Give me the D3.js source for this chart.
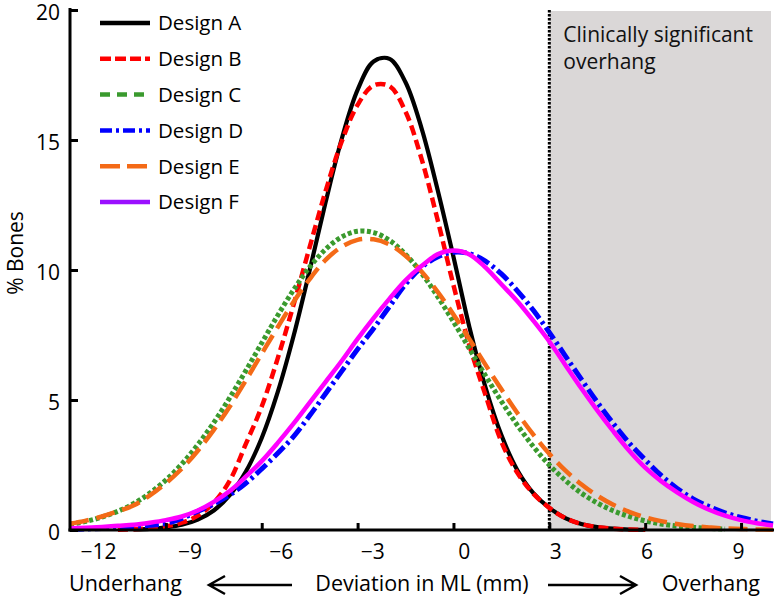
<!DOCTYPE html>
<html>
<head>
<meta charset="utf-8">
<script src="https://cdn.jsdelivr.net/npm/d3@7/dist/d3.min.js"></script>
<style>
  html, body { margin: 0; padding: 0; background: #fff; }
  svg { display: block; font-family: "Open Sans", Lato, sans-serif; }
</style>
</head>
<body>
<svg id="chart" width="774" height="601"></svg>
<script>
// ---- data ----
const deviation = [-12,-11.5,-11,-10.5,-10,-9.5,-9,-8.5,-8,-7.5,-7,-6.5,-6,-5.5,-5,-4.5,-4,-3.5,-3,-2.5,-2,-1.5,-1,-0.5,0,0.5,1,1.5,2,2.5,3,3.5,4,4.5,5,5.5,6,6.5,7,7.5,8,8.5,9,9.5,10];
const designA = [null,null,null,null,0.02,0.04,0.1,0.2,0.4,0.75,1.34,2.24,3.54,5.3,7.48,9.99,12.61,15.03,16.93,18.02,18.12,17.22,15.46,13.11,10.51,7.8,5.5,3.65,2.3,1.42,0.85,0.46,0.23,0.11,0.05,0.02,0.01,null,null,null,null,null,null,null,null];
const designB = [null,null,null,0.01,0.03,0.07,0.14,0.28,0.55,1.05,1.9,3.3,4.75,6.6,8.68,10.88,13.04,14.93,16.35,17.1,17.07,16.09,14.28,11.95,9.42,7.1,5.2,3.4,2.2,1.4,0.85,0.46,0.23,0.11,0.05,0.02,0.01,null,null,null,null,null,null,null,null];
const designC = [0.22,0.33,0.5,0.72,1.02,1.42,1.92,2.54,3.28,4.13,5.09,6.12,7.19,8.25,9.24,10.11,10.8,11.27,11.49,11.44,11.14,10.6,9.88,8.99,8.01,6.97,5.94,4.95,4.03,3.21,2.5,1.91,1.42,1.04,0.74,0.52,0.35,0.23,0.15,0.1,0.06,0.04,null,null,null];
const designD = [0.02,0.04,0.06,0.09,0.13,0.18,0.25,0.45,0.72,1.0,1.35,1.8,2.35,2.95,3.6,4.4,5.25,6.1,6.95,7.75,8.6,9.45,10.1,10.5,10.68,10.63,10.34,9.85,9.2,8.45,7.6,6.7,5.8,4.92,4.1,3.35,2.7,2.1,1.6,1.2,0.9,0.66,0.48,0.34,0.23];
const designE = [0.24,0.36,0.52,0.72,0.95,1.33,1.8,2.36,3.05,3.85,4.75,5.75,6.78,7.8,8.78,9.65,10.39,10.89,11.16,11.18,10.98,10.55,9.94,9.17,8.29,7.34,6.36,5.41,4.5,3.67,2.93,2.29,1.76,1.32,0.97,0.7,0.49,0.34,0.23,0.15,0.1,0.06,0.04,0.02,0.01];
const designF = [0.07,0.09,0.12,0.16,0.2,0.28,0.38,0.52,0.75,1.08,1.5,2.05,2.65,3.35,4.1,4.9,5.7,6.5,7.35,8.15,8.9,9.6,10.15,10.6,10.75,10.6,10.1,9.45,8.8,8.05,7.25,6.35,5.45,4.6,3.8,3.05,2.4,1.88,1.45,1.08,0.78,0.55,0.38,0.26,0.17];
const seriesNames = ["Design A","Design B","Design C","Design D","Design E","Design F"];
const xTickValues = [-12,-9,-6,-3,0,3,6,9];
const yTickValues = [0,5,10,15,20];
const overhangThreshold = 3;

// ---- styles ----
const styles = [
  {color:"#000000", legendColor:"#000000", width:4.2, dash:null, legendDash:null},
  {color:"#ff0000", legendColor:"#ff0000", width:4.5, dash:"10,5", legendDash:"11,4"},
  {color:"#3a9a2e", legendColor:"#3a9a2e", width:5, dash:"4,2.5", legendDash:"10,7"},
  {color:"#0000ff", legendColor:"#0000ff", width:5, dash:"14,4,3,4", legendDash:"12,4,3,4"},
  {color:"#f46a17", legendColor:"#f46a17", width:4.5, dash:"19,8", legendDash:"20,7"},
  {color:"#ff00ff", legendColor:"#9b10ff", width:4.5, dash:null, legendDash:null}
];
const values = [designA, designB, designC, designD, designE, designF];

const svg = d3.select("#chart");
const x = d3.scaleLinear().domain([-12, 10]).range([70, 773]);
const y = d3.scaleLinear().domain([0, 20]).range([530, 10]);
// tick labels in the reference sit on a slightly compressed spacing
const xLabel = d3.scaleLinear().domain([-12, 9]).range([98, 738]);

// shaded region
svg.append("rect")
  .attr("x", x(overhangThreshold)).attr("y", 11)
  .attr("width", 771 - x(overhangThreshold)).attr("height", y(0) - 11)
  .attr("fill", "#dad7d7");

// dotted threshold line
svg.append("line")
  .attr("x1", x(overhangThreshold)).attr("x2", x(overhangThreshold))
  .attr("y1", 10).attr("y2", y(0))
  .attr("stroke", "#000").attr("stroke-width", 3)
  .attr("stroke-dasharray", "2.5,1.5");

svg.append("text")
  .attr("x", x(overhangThreshold) + 14).attr("y", 42)
  .attr("font-size", 21).attr("fill", "#111")
  .text("Clinically significant");
svg.append("text")
  .attr("x", x(overhangThreshold) + 14).attr("y", 69)
  .attr("font-size", 21).attr("fill", "#111")
  .text("overhang");

// curves
const line = d3.line()
  .defined(d => d[1] != null)
  .x(d => x(d[0])).y(d => y(d[1]))
  .curve(d3.curveCatmullRom.alpha(0.5));

values.forEach((vals, i) => {
  const st = styles[i];
  svg.append("path")
    .datum(deviation.map((dv, j) => [dv, vals[j]]))
    .attr("d", line)
    .attr("fill", "none")
    .attr("stroke", st.color)
    .attr("stroke-width", st.width)
    .attr("stroke-dasharray", st.dash)
    .attr("stroke-linejoin", "round");
});

// axes
const yAxis = d3.axisLeft(y).tickValues(yTickValues).tickSizeInner(-8).tickSizeOuter(0).tickPadding(10);
const gy = svg.append("g").attr("transform", `translate(${x(-12)},0)`).call(yAxis);
gy.select(".domain").attr("stroke-width", 3).attr("d", `M0,${y(20)-2}V${y(0)+1.5}`);
gy.selectAll(".tick line").attr("stroke-width", 3);
gy.selectAll(".tick text").attr("font-size", 21).attr("font-family", "'Open Sans', sans-serif").attr("fill", "#000").attr("dy", "0.45em");

const xAxis = d3.axisBottom(x).tickValues(xTickValues.slice(1)).tickSizeInner(-7).tickSizeOuter(0).tickFormat("");
const gx = svg.append("g").attr("transform", `translate(0,${y(0)})`).call(xAxis);
gx.select(".domain").attr("stroke-width", 3).attr("d", `M${x(-12)-1.5},0H774`);
gx.selectAll(".tick line").attr("stroke-width", 3);

const xLabAxis = d3.axisBottom(xLabel).tickValues(xTickValues).tickSize(0).tickPadding(0);
const gxl = svg.append("g").attr("transform", `translate(0,544)`).call(xLabAxis);
gxl.select(".domain").remove();
gxl.selectAll(".tick text").attr("font-size", 21).attr("font-family", "'Open Sans', sans-serif").attr("fill", "#000").attr("dy", "0.71em");

// axis titles
svg.append("text")
  .attr("transform", "translate(23,253) rotate(-90)")
  .attr("text-anchor", "middle").attr("font-size", 21).attr("fill", "#000")
  .text("% Bones");

const bottomY = 591;
svg.append("text").attr("x", 69).attr("y", bottomY).attr("font-size", 21.5).attr("fill", "#000").text("Underhang");
svg.append("text").attr("x", 422).attr("y", bottomY).attr("text-anchor", "middle").attr("font-size", 21.5).attr("fill", "#000").text("Deviation in ML (mm)");
svg.append("text").attr("x", 760).attr("y", bottomY).attr("text-anchor", "end").attr("font-size", 21.5).attr("fill", "#000").text("Overhang");

// arrows
const arrowY = 585;
svg.append("path").attr("d", `M292,${arrowY}H209 M225,${arrowY-9}L209,${arrowY}L225,${arrowY+9}`)
  .attr("fill", "none").attr("stroke", "#000").attr("stroke-width", 2.5);
svg.append("path").attr("d", `M548,${arrowY}H636 M620,${arrowY-9}L636,${arrowY}L620,${arrowY+9}`)
  .attr("fill", "none").attr("stroke", "#000").attr("stroke-width", 2.5);

// legend
const legend = svg.append("g");
seriesNames.forEach((name, i) => {
  const st = styles[i];
  const ly = 23 + i * 35.8;
  legend.append("line")
    .attr("x1", 100).attr("x2", 150).attr("y1", ly).attr("y2", ly)
    .attr("stroke", st.legendColor).attr("stroke-width", 4.5)
    .attr("stroke-dasharray", st.legendDash);
  legend.append("text")
    .attr("x", 158).attr("y", ly).attr("dy", "0.36em")
    .attr("font-size", 20.5).attr("fill", "#000")
    .text(name);
});
</script>
</body>
</html>
